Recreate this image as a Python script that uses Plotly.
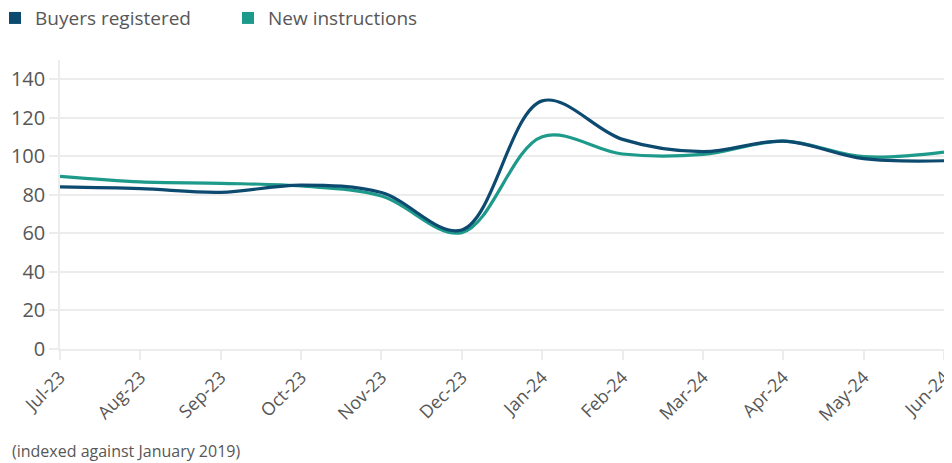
import plotly.graph_objects as go

months = ["Jul-23", "Aug-23", "Sep-23", "Oct-23", "Nov-23", "Dec-23",
          "Jan-24", "Feb-24", "Mar-24", "Apr-24", "May-24", "Jun-24"]
buyers_registered = [84.1, 83.2, 81.3, 85.1, 81.2, 61.8, 128.8, 108.8, 102.4, 107.9, 98.8, 97.7]
new_instructions = [89.6, 86.7, 86.0, 84.6, 79.4, 60.4, 110.2, 101.2, 101.0, 107.9, 99.8, 102.2]

y_ticks = [0, 20, 40, 60, 80, 100, 120, 140]

DARK_BLUE = "#0d4a70"
TEAL = "#1e9a8a"
TEXT_GREY = "#575757"
GRID_GREY = "#ececec"


def main():
    fig = go.Figure()

    # the lines themselves (legend drawn with square dummies below)
    fig.add_trace(go.Scatter(
        x=months, y=new_instructions, mode="lines",
        line=dict(color=TEAL, width=3.2, shape="spline", smoothing=1),
        showlegend=False, name="New instructions"
    ))
    fig.add_trace(go.Scatter(
        x=months, y=buyers_registered, mode="lines",
        line=dict(color=DARK_BLUE, width=3.2, shape="spline", smoothing=1),
        showlegend=False, name="Buyers registered"
    ))

    for name, color in [("Buyers registered", DARK_BLUE), ("New instructions", TEAL)]:
        fig.add_trace(go.Scatter(
            x=[None], y=[None], mode="markers", name=name,
            marker=dict(symbol="square", size=12, color=color)
        ))

    fig.add_annotation(
        text="(indexed against January 2019)",
        xref="paper", yref="paper", x=-0.0566, y=-0.353,
        xanchor="left", yanchor="middle", showarrow=False,
        font=dict(family="Open Sans", size=16, color=TEXT_GREY)
    )

    # page body has an 8px margin, so margins are shifted to compensate
    fig.update_layout(
        width=952,
        height=463,
        margin=dict(l=52, r=16, t=52, b=122, autoexpand=False),
        plot_bgcolor="white",
        paper_bgcolor="white",
        font=dict(family="Open Sans", size=18, color=TEXT_GREY),
        legend=dict(
            orientation="h", x=-0.0735, y=1.145, xanchor="left", yanchor="middle",
            font=dict(size=19, color=TEXT_GREY),
            entrywidth=188, entrywidthmode="pixels",
            traceorder="normal"
        ),
        xaxis=dict(
            type="category",
            range=[0, len(months) - 1],
            automargin=False,
            showgrid=False,
            zeroline=False,
            showline=True,
            linecolor=GRID_GREY,
            linewidth=1.5,
            ticks="outside",
            ticklen=9,
            tickcolor=GRID_GREY,
            tickwidth=1.5,
            tickangle=-45,
            tickfont=dict(size=18, color=TEXT_GREY)
        ),
        yaxis=dict(
            range=[0, 150],
            tickvals=y_ticks,
            automargin=False,
            showgrid=True,
            gridcolor=GRID_GREY,
            gridwidth=1.5,
            zeroline=False,
            showline=True,
            linecolor=GRID_GREY,
            linewidth=1.5,
            ticks="outside",
            ticklen=9,
            tickcolor=GRID_GREY,
            tickwidth=1.5,
            tickfont=dict(size=20, color=TEXT_GREY)
        )
    )

    fig.write_html("out.html")


if __name__ == "__main__":
    main()
